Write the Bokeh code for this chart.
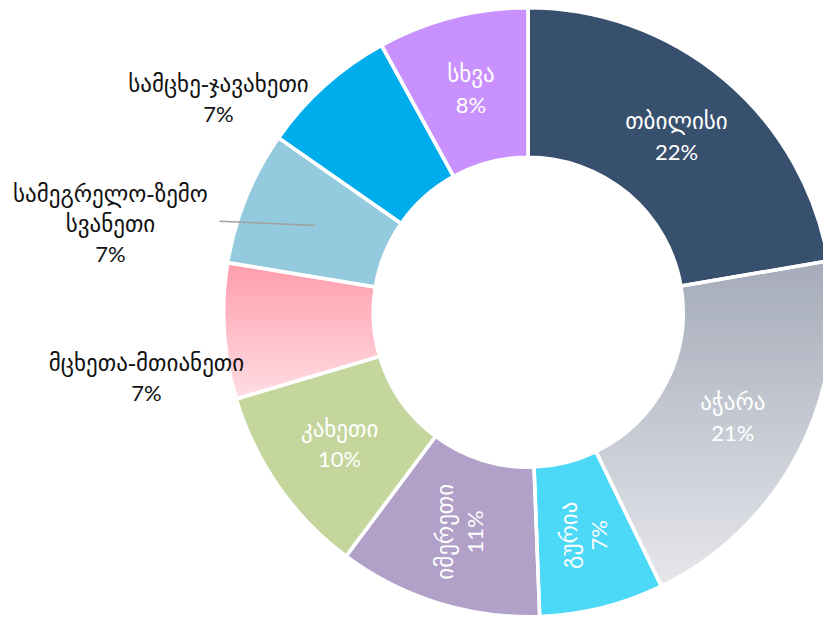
import numpy as np
from bokeh.plotting import figure
from bokeh.models import Range1d
from bokeh.embed import file_html
from bokeh.resources import INLINE
from bokeh.core.properties import value

# ---------------- data ----------------
regions = ["თბილისი", "აჭარა", "გურია", "იმერეთი", "კახეთი",
           "მცხეთა-მთიანეთი", "სამეგრელო-ზემო სვანეთი", "სამცხე-ჯავახეთი", "სხვა"]
shares = [22.3, 20.5, 6.6, 10.8, 10.2, 7.2, 7.1, 7.3, 8.0]
pct_labels = ["22%", "21%", "7%", "11%", "10%", "7%", "7%", "7%", "8%"]
label_lines = [["თბილისი"], ["აჭარა"], ["გურია"], ["იმერეთი"], ["კახეთი"],
               ["მცხეთა-მთიანეთი"], ["სამეგრელო-ზემო", "სვანეთი"], ["სამცხე-ჯავახეთი"], ["სხვა"]]

# ---------------- style / layout ----------------
colors = ["#37506d", "#a5abb9", "#4bd9f7", "#b1a1c8", "#c4d69c",
          "#ff9dab", "#93cadd", "#00adec", "#c891fd"]
gradients = {1: ("#a5abb9", "#e6e7eb"), 5: ("#ff9dab", "#ffdde4")}
label_mode = ["in", "in", "rot", "rot", "in", "out", "out", "out", "in"]

W, H = 823, 617
CX, CY = 527.7, 311.7    # donut centre in figure pixels
R_IN, R_OUT = 155, 304.5
R_LBL = 230
GEO_FONT = "DejaVu Sans ExtraLight, DejaVu Sans"
NUM_FONT = "Lato"
FS_GEO = "23px"
FS_NUM = "22px"
LINE = 30

# outside label anchors (figure pixels, centre of first line) and connector end
out_pos = {5: (146, 362), 6: (110, 193), 7: (218, 83)}
connector_end = {6: (219, 220.7)}


def to_data(px, py):
    return px - CX, CY - py


p = figure(width=W, height=H, output_backend="svg", toolbar_location=None,
           x_range=Range1d(-CX, W - CX), y_range=Range1d(CY - H, CY),
           min_border=0)
p.axis.visible = False
p.grid.visible = False
p.outline_line_color = None
p.background_fill_color = "white"
p.border_fill_color = "white"

total = sum(shares)
fr = np.array(shares) / total
cum = np.concatenate([[0], np.cumsum(fr)])
start = np.pi / 2 - cum[:-1] * 2 * np.pi
end = np.pi / 2 - cum[1:] * 2 * np.pi
mid = (start + end) / 2


def sector_poly(a0, a1, r0, r1, n=160):
    t = np.linspace(a0, a1, n)
    xs = np.concatenate([r1 * np.cos(t), r0 * np.cos(t[::-1])])
    ys = np.concatenate([r1 * np.sin(t), r0 * np.sin(t[::-1])])
    return list(zip(xs, ys))


def clip(poly, y0, keep_above):
    out = []
    n = len(poly)
    for i in range(n):
        cx_, cy_ = poly[i]
        px_, py_ = poly[i - 1]
        cin = cy_ >= y0 if keep_above else cy_ <= y0
        pin = py_ >= y0 if keep_above else py_ <= y0
        if cin:
            if not pin:
                t = (y0 - py_) / (cy_ - py_)
                out.append((px_ + t * (cx_ - px_), y0))
            out.append((cx_, cy_))
        elif pin:
            t = (y0 - py_) / (cy_ - py_)
            out.append((px_ + t * (cx_ - px_), y0))
    return out


def hex2rgb(h):
    h = h.lstrip("#")
    return np.array([int(h[i:i + 2], 16) for i in (0, 2, 4)], float)


def rgb2hex(c):
    return "#%02x%02x%02x" % tuple(int(round(v)) for v in c)


# solid slices
solid = [i for i in range(len(shares)) if i not in gradients]
p.annular_wedge(x=0, y=0, inner_radius=R_IN, outer_radius=R_OUT,
                start_angle=[start[i] for i in solid], end_angle=[end[i] for i in solid],
                direction="clock", fill_color=[colors[i] for i in solid],
                line_color=None)

# gradient slices (vertical gradient, top -> bottom)
for i, (ctop, cbot) in gradients.items():
    poly = sector_poly(start[i], end[i], R_IN, R_OUT)
    ys_all = [q[1] for q in poly]
    ytop, ybot = max(ys_all), min(ys_all)
    nb = 60
    edges = np.linspace(ytop, ybot, nb + 1)
    c0, c1 = hex2rgb(ctop), hex2rgb(cbot)
    bx, by, bc = [], [], []
    for k in range(nb):
        hi, lo = edges[k], edges[k + 1]
        pp = clip(clip(poly, lo, True), hi, False)
        if len(pp) < 3:
            continue
        col = rgb2hex(c0 + (c1 - c0) * (k + 0.5) / nb)
        bx.append([q[0] for q in pp])
        by.append([q[1] for q in pp])
        bc.append(col)
    p.patches(bx, by, fill_color=bc, line_color=bc, line_width=1)

# white separators
p.annular_wedge(x=0, y=0, inner_radius=R_IN, outer_radius=R_OUT,
                start_angle=start, end_angle=end, direction="clock",
                fill_alpha=0, line_color="white", line_width=3.5)
p.annulus(x=0, y=0, inner_radius=R_IN - 3, outer_radius=R_IN,
          fill_color="white", line_color=None)


def style(t):
    if any("\u10a0" <= ch <= "\u10ff" for ch in t):
        return GEO_FONT, FS_GEO
    return NUM_FONT, FS_NUM


# labels
for i in range(len(shares)):
    lines = label_lines[i] + [pct_labels[i]]
    mode = label_mode[i]
    if mode in ("in", "rot"):
        lx, ly = R_LBL * np.cos(mid[i]), R_LBL * np.sin(mid[i])
        nl = len(lines)
        for j, t in enumerate(lines):
            off = (j - (nl - 1) / 2) * LINE
            f, s = style(t)
            if mode == "in":
                p.text(x=[lx], y=[ly], text=[t], y_offset=off,
                       text_align="center", text_baseline="middle",
                       text_color="white", text_font=value(f), text_font_size=s)
            else:
                p.text(x=[lx], y=[ly], text=[t], x_offset=off, angle=np.pi / 2,
                       text_align="center", text_baseline="middle",
                       text_color="white", text_font=value(f), text_font_size=s)
    else:
        ax, ay = to_data(*out_pos[i])
        for j, t in enumerate(lines):
            f, s = style(t)
            p.text(x=[ax], y=[ay], text=[t], y_offset=j * LINE,
                   text_align="center", text_baseline="middle",
                   text_color="#111111", text_font=value(f), text_font_size=s)
        if i in connector_end:
            ex, ey = to_data(*connector_end[i])
            sx, sy = R_LBL * np.cos(mid[i]), R_LBL * np.sin(mid[i])
            p.line(x=[ex, sx], y=[ey, sy], line_color="#a0a0a0", line_width=1.5)

open("out.html", "w").write(file_html(p, INLINE))
